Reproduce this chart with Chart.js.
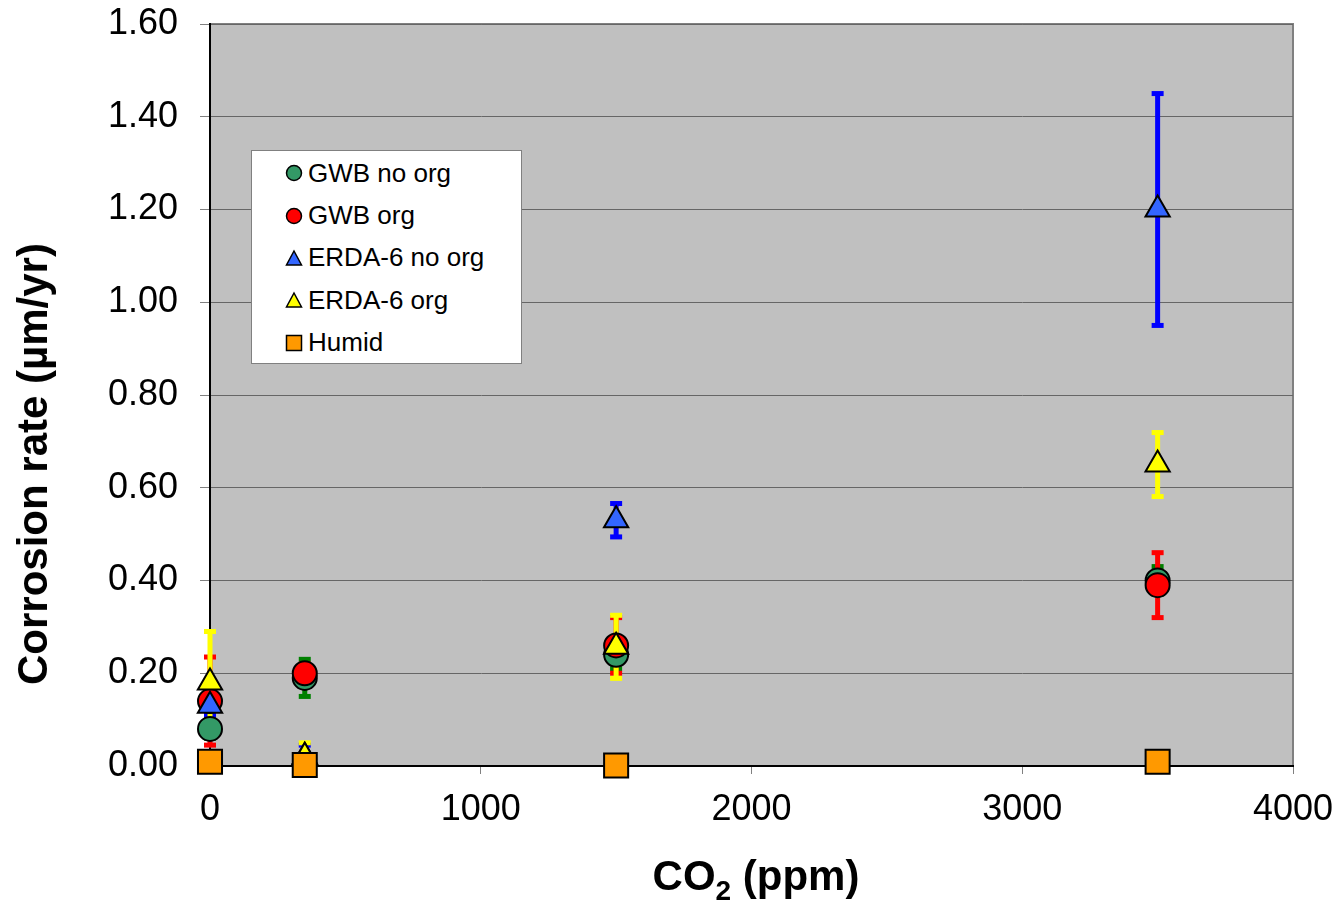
<!DOCTYPE html>
<html>
<head>
<meta charset="utf-8">
<title>Corrosion rate vs CO2</title>
<script src="https://cdn.jsdelivr.net/npm/chart.js@4"></script>
<style>
  html, body { margin: 0; padding: 0; background: #fff; }
  #wrap { position: relative; width: 1337px; height: 906px; font-family: "Liberation Sans", Arial, sans-serif; color: #000; }
  #chart { position: absolute; left: 0; top: 0; }
  .ytitle { position: absolute; left: 33px; top: 464px; transform: translate(-50%, -50%) rotate(-90deg);
            font-weight: bold; font-size: 42px; white-space: nowrap; }
  .xtitle { position: absolute; left: 756px; top: 876px; transform: translate(-50%, -50%);
            font-weight: bold; font-size: 42px; white-space: nowrap; }
  .xtitle sub { font-size: 28px; vertical-align: -10px; line-height: 0; }
  #legend { position: absolute; left: 251px; top: 150px; width: 269px; height: 211px; background: #fff;
            border: 1px solid #808080; padding-top: 1px; }
  #legend .row { display: flex; align-items: center; height: 42.4px; font-size: 26px; }
  #legend svg { margin-left: 33px; margin-right: 5px; }
</style>
</head>
<body>
<div id="wrap">
  <canvas id="chart" width="1337" height="906"></canvas>
  <div class="ytitle">Corrosion rate (µm/yr)</div>
  <div class="xtitle">CO<sub>2</sub> (ppm)</div>
  <div id="legend"></div>
</div>
<script>
/* ── Data ── */
const co2 = [0, 350, 1500, 3500];

const gwbNoOrg     = [0.08, 0.19, 0.24, 0.40];
const gwbNoOrgErr  = [0.02, 0.04, 0.03, 0.03];
const gwbOrg       = [0.14, 0.20, 0.26, 0.39];
const gwbOrgErr    = [0.095, 0.02, 0.06, 0.07];
const erdaNoOrg    = [0.13, 0.02, 0.53, 1.20];
const erdaNoOrgErr = [0.02, 0.025, 0.036, 0.25];
const erdaOrg      = [0.18, 0.02, 0.257, 0.65];
const erdaOrgErr   = [0.11, 0.03, 0.068, 0.069];
const humid        = [0.009, 0.002, 0.001, 0.009];

const seriesNames = ['GWB no org', 'GWB org', 'ERDA-6 no org', 'ERDA-6 org', 'Humid'];
const xTicks = [0, 1000, 2000, 3000, 4000];
const yTicks = [0, 0.2, 0.4, 0.6, 0.8, 1.0, 1.2, 1.4, 1.6];

/* ── Styles per series ── */
const styles = [
    { shape: 'circle',   fill: '#339966', err: '#008000', r: 12 },
    { shape: 'circle',   fill: '#FF0000', err: '#FF0000', r: 12 },
    { shape: 'triangle', fill: '#3366FF', err: '#0000FF', r: 14 },
    { shape: 'triangle', fill: '#FFFF00', err: '#FFFF00', r: 14 },
    { shape: 'rect',     fill: '#FF9900', err: null,      r: 17 }
];

const values = [gwbNoOrg, gwbOrg, erdaNoOrg, erdaOrg, humid];
const errors = [gwbNoOrgErr, gwbOrgErr, erdaNoOrgErr, erdaOrgErr, null];

const datasets = seriesNames.map((name, i) => ({
    label: name,
    data: co2.map((x, j) => ({ x: x, y: values[i][j] })),
    errors: errors[i],
    errorColor: styles[i].err,
    showLine: false,
    pointStyle: styles[i].shape,
    pointRadius: styles[i].r,
    pointHoverRadius: styles[i].r,
    backgroundColor: styles[i].fill,
    borderColor: '#000',
    pointBorderWidth: 2,
    order: seriesNames.length - i,   // later series drawn on top
    clip: false
}));

/* ── Plugins ── */
const plotBackground = {
    id: 'plotBackground',
    beforeDraw(chart) {
        const { ctx, chartArea: a } = chart;
        ctx.save();
        ctx.fillStyle = '#C0C0C0';
        ctx.fillRect(a.left, a.top, a.right - a.left, a.bottom - a.top);
        ctx.strokeStyle = '#808080';
        ctx.lineWidth = 2;
        ctx.beginPath();
        ctx.moveTo(a.left, a.top);
        ctx.lineTo(a.right, a.top);
        ctx.lineTo(a.right, a.bottom);
        ctx.stroke();
        ctx.restore();
    }
};

const errorBars = {
    id: 'errorBars',
    beforeDatasetsDraw(chart) {
        const ctx = chart.ctx;
        const xs = chart.scales.x, ys = chart.scales.y;
        chart.data.datasets.forEach(ds => {
            if (!ds.errors) return;
            ctx.save();
            ctx.fillStyle = ds.errorColor;
            ds.data.forEach((p, i) => {
                const e = ds.errors[i];
                if (!e) return;
                const x = xs.getPixelForValue(p.x);
                const top = ys.getPixelForValue(p.y + e);
                const bot = ys.getPixelForValue(p.y - e);
                ctx.fillRect(x - 2.5, top, 5, bot - top);
                ctx.fillRect(x - 6, top - 2.5, 12, 5);
                ctx.fillRect(x - 6, bot - 2.5, 12, 5);
            });
            ctx.restore();
        });
    }
};

/* ── Chart ── */
const tickFont = { family: "'Liberation Sans', Arial, sans-serif", size: 36 };

new Chart(document.getElementById('chart'), {
    type: 'scatter',
    data: { datasets: datasets },
    options: {
        responsive: false,
        animation: false,
        events: [],
        layout: { padding: { top: 24, right: 44, left: 0, bottom: 0 } },
        plugins: { legend: { display: false }, tooltip: { enabled: false } },
        scales: {
            x: {
                type: 'linear',
                min: 0, max: 4000,
                afterBuildTicks: s => { s.ticks = xTicks.map(v => ({ value: v })); },
                afterFit: s => { s.height = 140; s.paddingLeft = 0; s.paddingRight = 0; },
                grid: { drawOnChartArea: false, color: '#808080', tickColor: '#808080', tickLength: 8 },
                border: { color: '#000', width: 2 },
                ticks: { color: '#000', font: tickFont, padding: 14, maxRotation: 0, callback: v => String(v) }
            },
            y: {
                type: 'linear',
                min: 0, max: 1.6,
                afterBuildTicks: s => { s.ticks = yTicks.map(v => ({ value: v })); },
                afterFit: s => { s.width = 210; s.paddingTop = 0; s.paddingBottom = 0; },
                grid: { color: '#666666', tickColor: '#808080', tickLength: 10, lineWidth: 1 },
                border: { color: '#000', width: 2 },
                ticks: { color: '#000', font: tickFont, padding: 22, callback: v => v.toFixed(2) }
            }
        }
    },
    plugins: [plotBackground, errorBars]
});

/* ── Legend (HTML) ── */
function markerSvg(st) {
    let shape;
    if (st.shape === 'circle') shape = `<circle cx="9" cy="9" r="7.5" fill="${st.fill}" stroke="#000" stroke-width="1.5"/>`;
    else if (st.shape === 'triangle') shape = `<polygon points="9,2 16.5,16 1.5,16" fill="${st.fill}" stroke="#000" stroke-width="1.5"/>`;
    else shape = `<rect x="1.5" y="1.5" width="15" height="15" fill="${st.fill}" stroke="#000" stroke-width="1.5"/>`;
    return `<svg width="18" height="18" viewBox="0 0 18 18">${shape}</svg>`;
}

document.getElementById('legend').innerHTML = seriesNames.map((name, i) =>
    `<div class="row">${markerSvg(styles[i])}<span>${name}</span></div>`
).join('');
</script>
</body>
</html>
